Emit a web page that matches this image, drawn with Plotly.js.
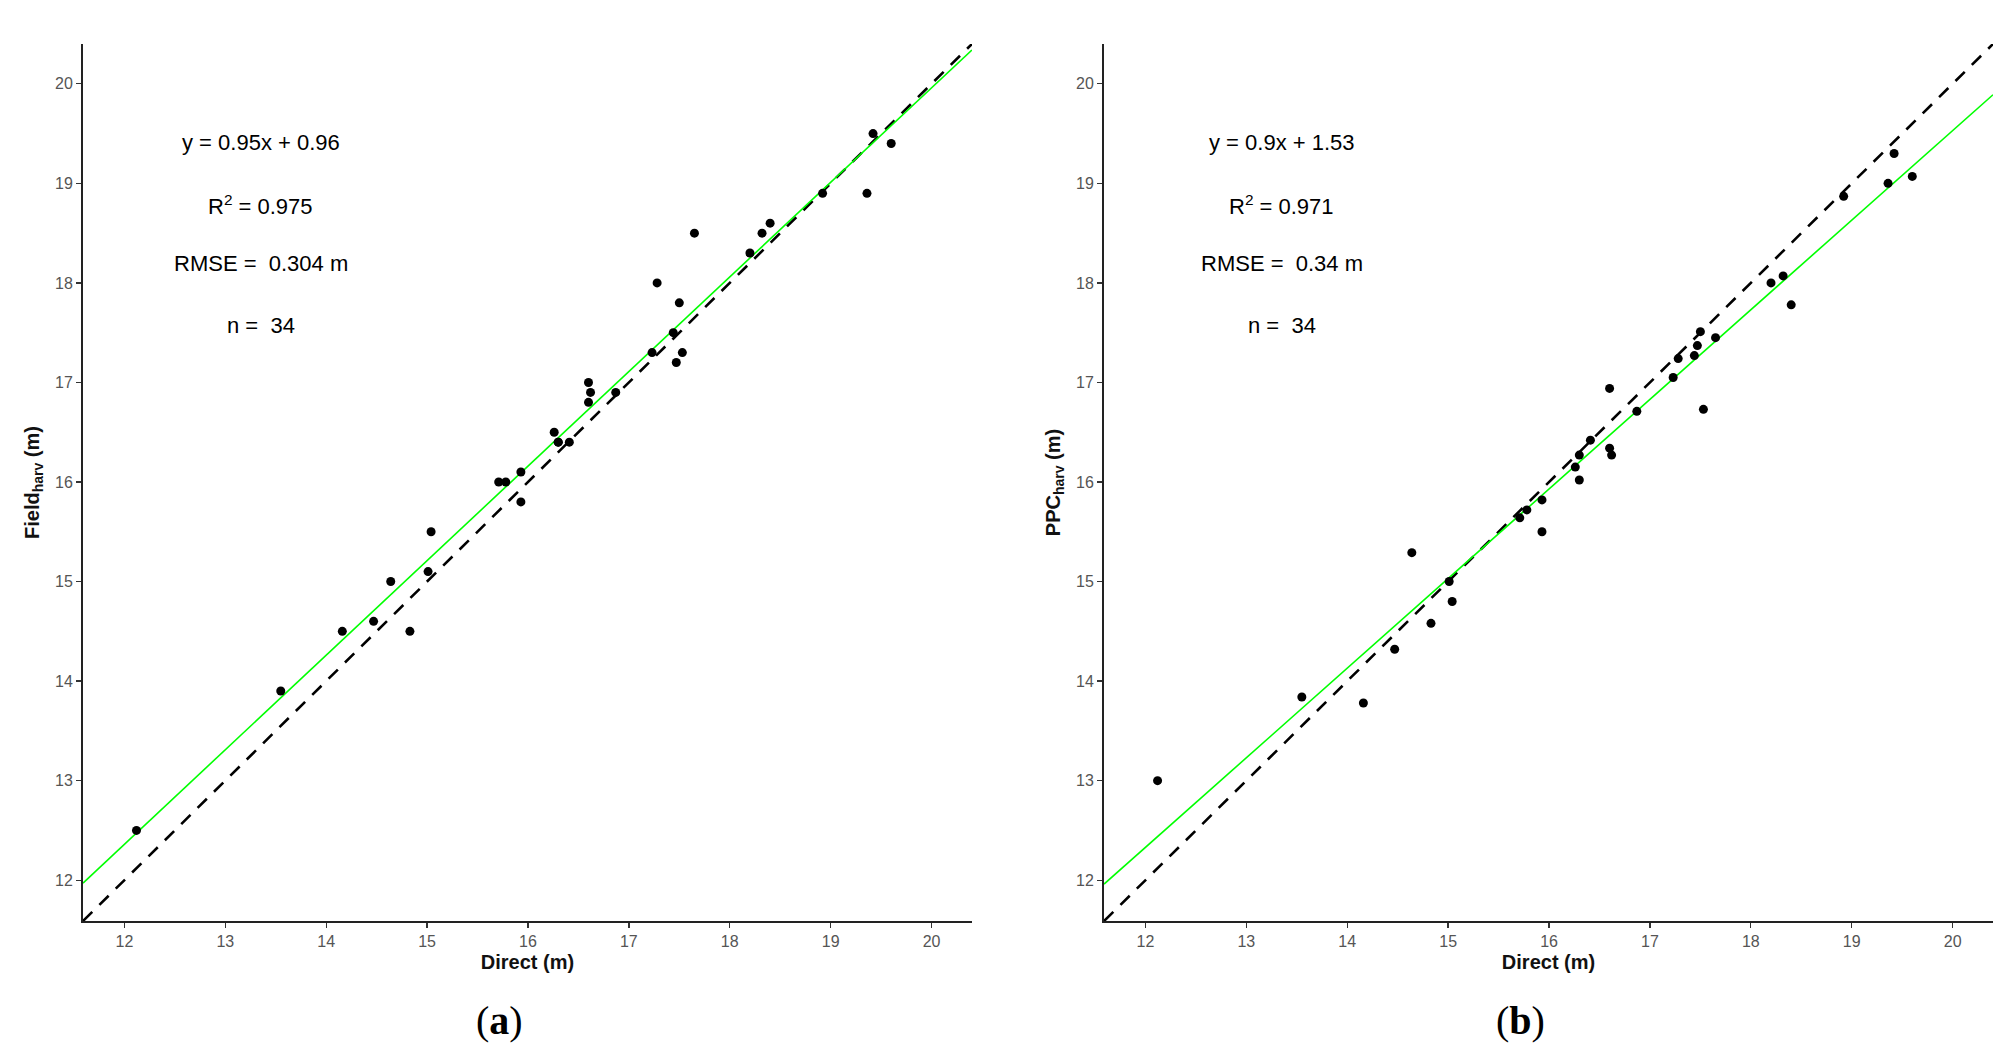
<!DOCTYPE html>
<html>
<head>
<meta charset="utf-8">
<script src="https://cdn.plot.ly/plotly-3.0.1.min.js"></script>
<style>
  html, body { margin: 0; padding: 0; background: #fff; }
  #plot { width: 2014px; height: 1061px; }
</style>
</head>
<body>
<div id="plot"></div>
<script>
// Direct height measurements (m), shared by both panels
var direct = [12.12, 13.55, 14.16, 14.47, 14.64, 14.83, 15.01, 15.04, 15.71, 15.78,
              15.93, 15.93, 16.26, 16.30, 16.30, 16.41, 16.60, 16.60, 16.62, 16.87,
              17.23, 17.28, 17.44, 17.47, 17.50, 17.53, 17.65, 18.20, 18.32, 18.40,
              18.92, 19.36, 19.42, 19.60];

// panel (a): field harvested heights
var fieldHarv = [12.5, 13.9, 14.5, 14.6, 15.0, 14.5, 15.1, 15.5, 16.0, 16.0,
                 16.1, 15.8, 16.5, 16.4, 16.4, 16.4, 17.0, 16.8, 16.9, 16.9,
                 17.3, 18.0, 17.5, 17.2, 17.8, 17.3, 18.5, 18.3, 18.5, 18.6,
                 18.9, 18.9, 19.5, 19.4];

// panel (b): PPC harvested heights
var ppcHarv = [13.0, 13.84, 13.78, 14.32, 15.29, 14.58, 15.0, 14.80, 15.64, 15.72,
               15.82, 15.5, 16.15, 16.27, 16.02, 16.42, 16.94, 16.34, 16.27, 16.71,
               17.05, 17.24, 17.27, 17.37, 17.51, 16.73, 17.45, 18.0, 18.07, 17.78,
               18.87, 19.0, 19.3, 19.07];

// fitted lines from the printed equations
var fitSlope = [0.95, 0.9];
var fitIntercept = [0.96, 1.53];
var statsText = [
  ['y = 0.95x + 0.96', 'R<sup>2</sup> = 0.975', 'RMSE =  0.304 m', 'n =  34'],
  ['y = 0.9x + 1.53', 'R<sup>2</sup> = 0.971', 'RMSE =  0.34 m', 'n =  34']
];
var statsY = [19.41, 18.78, 18.2, 17.57];
var yTitles = ['<b>Field<sub>harv</sub> (m)</b>', '<b>PPC<sub>harv</sub> (m)</b>'];
var panelLabels = ['(<b>a</b>)', '(<b>b</b>)'];

var axRange = [11.59, 20.4];
var tickVals = [12, 13, 14, 15, 16, 17, 18, 19, 20];

var data = [];
var annotations = [];
var series = [fieldHarv, ppcHarv];

for (var p = 0; p < 2; p++) {
  var xa = p === 0 ? 'x' : 'x2';
  var ya = p === 0 ? 'y' : 'y2';
  // 1:1 line
  data.push({
    x: axRange, y: axRange, xaxis: xa, yaxis: ya,
    mode: 'lines', type: 'scatter', hoverinfo: 'skip',
    line: { color: '#000', width: 2.6, dash: '13px,10px' }
  });
  // regression line
  data.push({
    x: axRange,
    y: axRange.map(function (v) { return fitSlope[p] * v + fitIntercept[p]; }),
    xaxis: xa, yaxis: ya,
    mode: 'lines', type: 'scatter', hoverinfo: 'skip',
    line: { color: '#00ff00', width: 1.6 }
  });
  // points
  data.push({
    x: direct, y: series[p], xaxis: xa, yaxis: ya,
    mode: 'markers', type: 'scatter',
    marker: { color: '#000', size: 9 }
  });

  for (var i = 0; i < statsText[p].length; i++) {
    annotations.push({
      xref: xa, yref: ya, x: 13.35, y: statsY[i],
      xanchor: 'center', yanchor: 'middle',
      text: statsText[p][i], showarrow: false,
      font: { family: 'Liberation Sans, Arial, sans-serif', size: 22, color: '#000' }
    });
  }
  annotations.push({
    xref: xa + ' domain', yref: ya + ' domain', x: 0.469, y: -0.113,
    xanchor: 'center', yanchor: 'middle',
    text: panelLabels[p], showarrow: false,
    font: { family: 'Liberation Serif, serif', size: 40, color: '#000' }
  });
}

function xAxis(domain, anchor) {
  return {
    domain: domain, anchor: anchor, range: axRange,
    tickvals: tickVals, ticks: 'outside', ticklen: 5, tickwidth: 1.3, tickcolor: '#333',
    showline: true, linecolor: '#222', linewidth: 2,
    showgrid: false, zeroline: false,
    tickfont: { family: 'Liberation Sans, Arial, sans-serif', size: 16, color: '#555' },
    title: { text: '<b>Direct (m)</b>', standoff: 6,
             font: { family: 'Liberation Sans, Arial, sans-serif', size: 20, color: '#111' } }
  };
}
function yAxis(anchor, title) {
  return {
    domain: [0, 1], anchor: anchor, range: axRange,
    tickvals: tickVals, ticks: 'outside', ticklen: 5, tickwidth: 1.3, tickcolor: '#333',
    showline: true, linecolor: '#222', linewidth: 2,
    showgrid: false, zeroline: false,
    tickfont: { family: 'Liberation Sans, Arial, sans-serif', size: 16, color: '#555' },
    title: { text: title, standoff: 10,
             font: { family: 'Liberation Sans, Arial, sans-serif', size: 20, color: '#111' } }
  };
}

var layout = {
  width: 2014, height: 1061,
  margin: { l: 83, r: 21, t: 44, b: 140 },
  paper_bgcolor: '#fff', plot_bgcolor: '#fff',
  showlegend: false,
  xaxis: xAxis([0, 0.4654], 'y'),
  yaxis: yAxis('x', yTitles[0]),
  xaxis2: xAxis([0.5346, 1], 'y2'),
  yaxis2: yAxis('x2', yTitles[1]),
  annotations: annotations
};

Plotly.newPlot('plot', data, layout, { displayModeBar: false, staticPlot: true });
</script>
</body>
</html>
